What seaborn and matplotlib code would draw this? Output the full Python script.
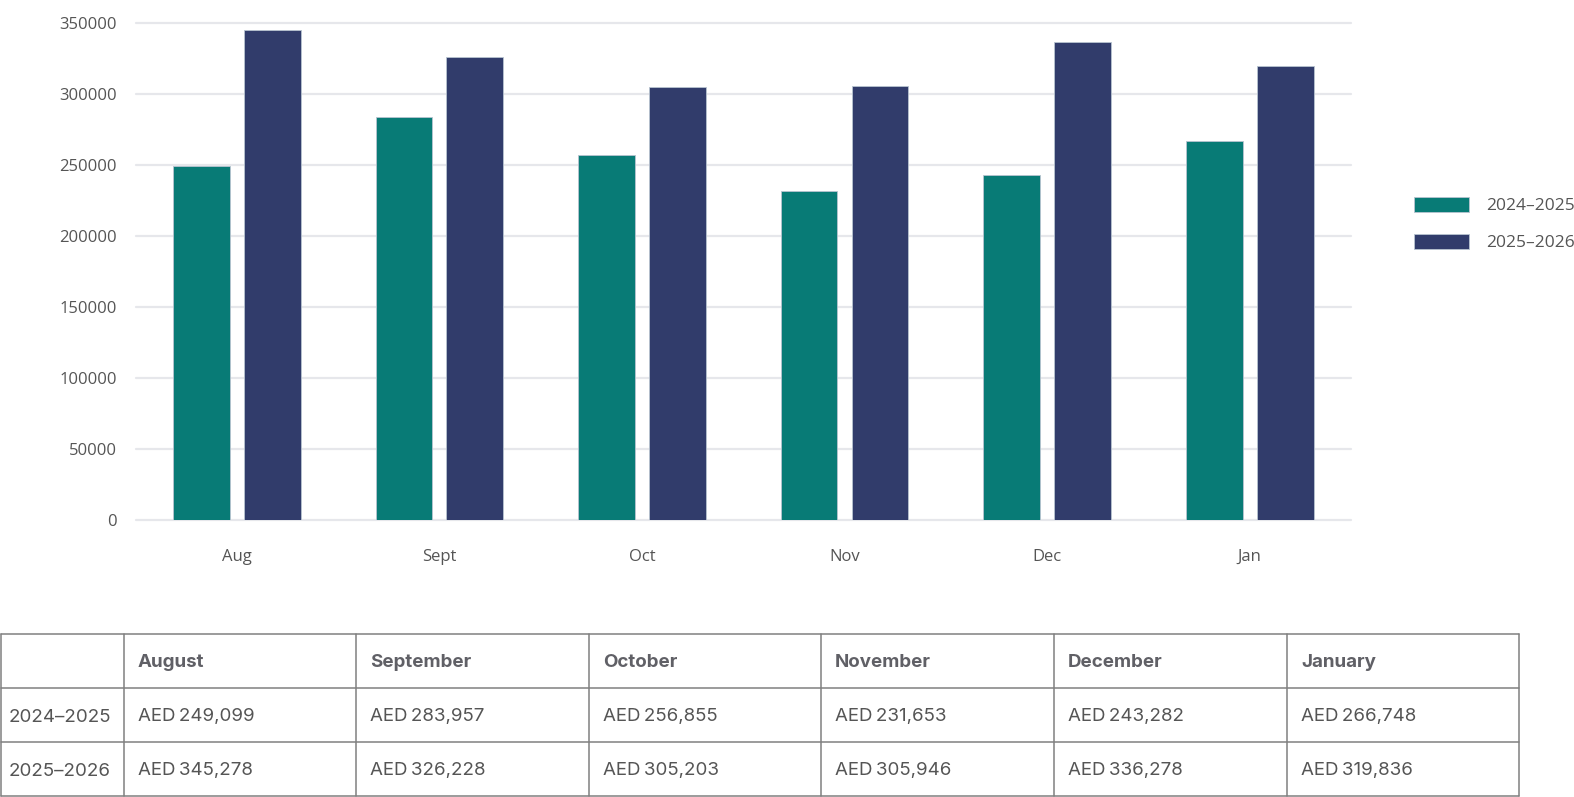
import pandas as pd
import seaborn as sns
import matplotlib.pyplot as plt

# -----------------------------
# Data
# -----------------------------
months_short = ["Aug", "Sept", "Oct", "Nov", "Dec", "Jan"]
months_long = ["August", "September", "October", "November", "December", "January"]
seasons = ["2024–2025", "2025–2026"]
rev_2024_25 = [249099, 283957, 256855, 231653, 243282, 266748]
rev_2025_26 = [345278, 326228, 305203, 305946, 336278, 319836]

teal = "#087B76"
navy = "#313C6B"
text_grey = "#555555"

revenue = pd.DataFrame({
    "Month": months_short * 2,
    "Season": [seasons[0]] * 6 + [seasons[1]] * 6,
    "Revenue": rev_2024_25 + rev_2025_26,
})

# -----------------------------
# Figure / layout (pixel based)
# -----------------------------
W, H = 1574, 797
sns.set_style("white")
plt.rcParams["font.family"] = ["Open Sans", "DejaVu Sans"]

fig = plt.figure(figsize=(W / 100, H / 100), dpi=100)
ax = fig.add_axes([135.5 / W, 1 - 520 / H, (1351 - 135.5) / W, (520 - 23) / H])

# -----------------------------
# Bar chart
# -----------------------------
sns.barplot(
    data=revenue,
    x="Month",
    y="Revenue",
    hue="Season",
    hue_order=seasons,
    palette=[teal, navy],
    saturation=1,
    width=0.7,
    gap=0.2,
    edgecolor="#b8c4d0",
    linewidth=0.6,
    ax=ax,
)

ax.set_ylim(0, 350000)
ax.set_yticks(range(0, 350001, 50000))
ax.set_xlim(-0.5, 5.5)
ax.set_xlabel("")
ax.set_ylabel("")
ax.yaxis.grid(True, color="#e6e7eb", linewidth=1.6)
ax.set_axisbelow(True)
for gl in ax.get_ygridlines():
    gl.set_clip_on(False)
sns.despine(ax=ax, left=True, bottom=True)
ax.tick_params(axis="y", length=0, pad=13.5, labelsize=12, labelcolor=text_grey)
ax.tick_params(axis="x", length=0, pad=21, labelsize=12, labelcolor=text_grey)

leg = ax.legend(
    loc="center left",
    bbox_to_anchor=(1398 / W, 1 - 224 / H),
    bbox_transform=fig.transFigure,
    frameon=False,
    fontsize=12.5,
    labelcolor=text_grey,
    handlelength=3.2,
    handleheight=0.95,
    handletextpad=1.0,
    labelspacing=1.15,
)

# -----------------------------
# Table below the chart
# -----------------------------
tab = fig.add_axes([0, 0, 1, 1])
tab.set_xlim(0, W)
tab.set_ylim(H, 0)
tab.axis("off")

col_edges = [0.5, 123.5, 356, 589, 821, 1054, 1287, 1519]
row_edges = [633.5, 688, 742, 796]
line_col = "#808080"

for y in row_edges:
    tab.plot([col_edges[0], col_edges[-1]], [y, y], color=line_col, lw=1.1)
for x in col_edges:
    tab.plot([x, x], [row_edges[0], row_edges[-1]], color=line_col, lw=1.1)

table_font = ["Inter", "DejaVu Sans"]
for j, name in enumerate(months_long):
    tab.text(col_edges[j + 1] + 14, (row_edges[0] + row_edges[1]) / 2 + 2, name,
             ha="left", va="center", fontsize=13.5, fontweight="bold",
             color="#606066", family=table_font)

for i, (season, vals) in enumerate(zip(seasons, [rev_2024_25, rev_2025_26])):
    yc = (row_edges[i + 1] + row_edges[i + 2]) / 2 + 2
    tab.text(col_edges[0] + 8, yc, season, ha="left", va="center",
             fontsize=13.5, color=text_grey, family=table_font)
    for j, v in enumerate(vals):
        tab.text(col_edges[j + 1] + 14, yc, f"AED\u2009{v:,}", ha="left", va="center",
                 fontsize=13.5, color=text_grey, family=table_font)

fig.savefig("out.png", dpi=100)
